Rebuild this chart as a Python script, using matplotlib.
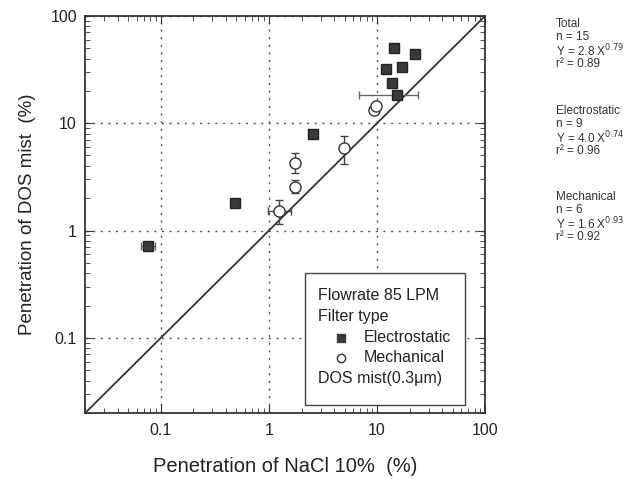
import matplotlib
matplotlib.use('Agg')
import matplotlib.pyplot as plt
from matplotlib.ticker import LogLocator, NullFormatter, FixedLocator, FixedFormatter

plt.rcParams['font.family'] = ['Liberation Sans', 'DejaVu Sans']

# electrostatic filters (NaCl %, DOS %)
elec_x = [14.4, 22.5, 12.1, 17.0, 13.8, 15.4, 2.55, 0.48, 0.076]
elec_y = [50.5, 44.0, 32.0, 33.0, 23.8, 18.4, 8.0, 1.82, 0.71]
elec_xlo = [0, 0, 0, 0, 1.0, 8.6, 0, 0, 0.010]
elec_xhi = [0, 0, 0, 0, 1.0, 8.6, 0, 0, 0.012]

# mechanical filters
mech_x = [9.3, 9.8, 4.95, 1.74, 1.74, 1.24]
mech_y = [13.2, 14.3, 5.9, 4.3, 2.57, 1.53]
mech_xlo = [0.6, 0.6, 0, 0, 0, 0.27]
mech_xhi = [0.6, 0.6, 0, 0, 0, 0.36]
mech_ylo = [0, 0, 1.7, 0.9, 0.35, 0.39]
mech_yhi = [0, 0, 1.7, 1.0, 0.4, 0.41]

fig = plt.figure(figsize=(6.41, 4.79), dpi=100)
ax = fig.add_axes([0.133, 0.138, 0.624, 0.829])

ax.plot([0.02, 100], [0.02, 100], color='#333333', lw=1.3, zorder=2)

ax.errorbar(elec_x, elec_y, xerr=[elec_xlo, elec_xhi], fmt='none',
            ecolor='#666666', elinewidth=1, capsize=3, zorder=3)
ax.plot(elec_x, elec_y, 's', color='#3a3a3a', mec='#222222', ms=6.5, zorder=4)

ax.errorbar(mech_x, mech_y, xerr=[mech_xlo, mech_xhi], yerr=[mech_ylo, mech_yhi],
            fmt='none', ecolor='#444444', elinewidth=1, capsize=3, zorder=3)
ax.plot(mech_x, mech_y, 'o', mfc='white', mec='#333333', mew=1, ms=8, zorder=4)

ax.set_xscale('log')
ax.set_yscale('log')
ax.set_xlim(0.02, 100)
ax.set_ylim(0.02, 100)

ticks = [0.1, 1, 10, 100]
labels = ['0.1', '1', '10', '100']
for axis in (ax.xaxis, ax.yaxis):
    axis.set_major_locator(FixedLocator(ticks))
    axis.set_major_formatter(FixedFormatter(labels))
    axis.set_minor_locator(LogLocator(base=10, subs=range(2, 10), numticks=20))
    axis.set_minor_formatter(NullFormatter())

ax.tick_params(which='both', direction='in', top=True, right=True, color='#333333')
ax.tick_params(which='major', length=6, labelsize=11.5, labelcolor='#222222')
ax.tick_params(axis='x', which='major', pad=7)
ax.tick_params(axis='y', which='major', pad=6)
ax.tick_params(which='minor', length=3.5)
ax.grid(True, which='major', linestyle=(0, (1.5, 4)), color='#555555', lw=1)
for s in ax.spines.values():
    s.set_linewidth(1.3)
    s.set_color('#333333')

ax.set_xlabel('Penetration of NaCl 10%  (%)', fontsize=14.5, color='#222222', va='center')
ax.xaxis.set_label_coords(0.5, -0.136)
ax.set_ylabel('Penetration of DOS mist  (%)', fontsize=13.5, color='#222222', va='center')
ax.yaxis.set_label_coords(-58 / 400, 0.5)

# legend box
lx0, ly0 = 305 / 641, 1 - 405 / 479
box = plt.Rectangle((lx0, ly0), 160 / 641, 132 / 479, transform=fig.transFigure,
                    facecolor='white', edgecolor='#444444', lw=1, zorder=5)
fig.patches.append(box)
tx = 318 / 641
legend_lines = [
    (tx, 296, 'Flowrate 85 LPM'),
    (tx, 317, 'Filter type'),
    (364 / 641, 338, 'Electrostatic'),
    (364 / 641, 358, 'Mechanical'),
    (tx, 379, 'DOS mist(0.3\u03bcm)'),
]
for x, y, t in legend_lines:
    fig.text(x, 1 - y / 479, t, fontsize=11.5, va='center', color='#222222', zorder=7)
fig.lines.append(plt.Line2D([341 / 641], [1 - 338 / 479], transform=fig.transFigure,
                            marker='s', color='#3a3a3a', ms=6, zorder=6))
fig.lines.append(plt.Line2D([341 / 641], [1 - 358 / 479], transform=fig.transFigure,
                            marker='o', mfc='white', mec='#333333', ms=6, zorder=6))

# regression summaries
groups = [
    ('Total', '15', '2.8', '0.79', '0.89', 24),
    ('Electrostatic', '9', '4.0', '0.74', '0.96', 111),
    ('Mechanical', '6', '1.6', '0.93', '0.92', 197),
]
rx = 556 / 641
for name, n, a, b, r2, y0 in groups:
    lines = [name, 'n = ' + n, 'Y = ' + a + ' X$^{' + b + '}$', 'r\u00b2 = ' + r2]
    for i, t in enumerate(lines):
        fig.text(rx, 1 - (y0 + 13.3 * i) / 479, t, fontsize=8.5, va='center', color='#333333')

fig.savefig('out.png', dpi=100)
